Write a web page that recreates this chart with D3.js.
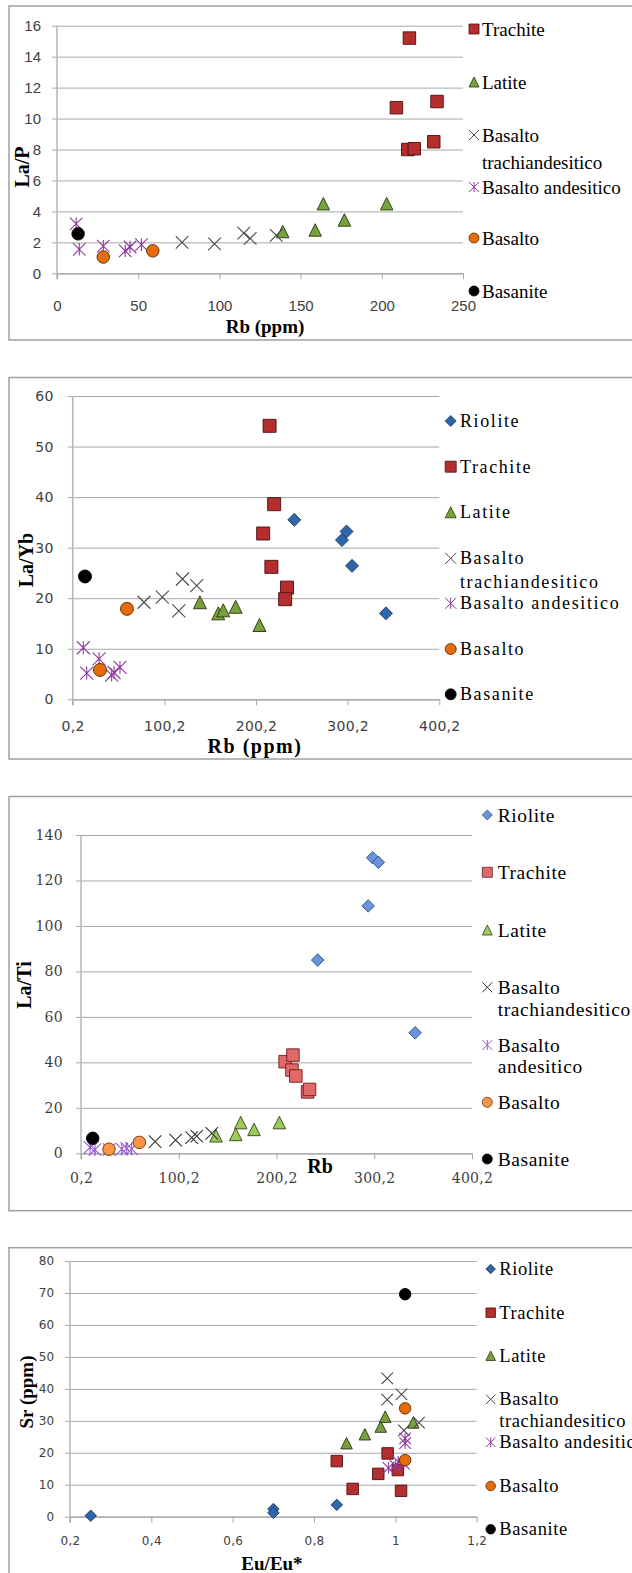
<!DOCTYPE html>
<html lang="it">
<head>
<meta charset="UTF-8">
<title>Diagrammi La/P, La/Yb, La/Ti, Sr</title>
<script src="https://cdn.jsdelivr.net/npm/d3@7"></script>
<style>
    body { margin: 0; background: #fff; }
    svg { display: block; }
    .serif { font-family: "Liberation Serif", "Times New Roman", "DejaVu Serif", serif; }
</style>
</head>
<body>
<script>
    // ---- dati ([x, y]) ----

    // Pannello 1: La/P vs Rb (ppm)
    const laP_trachite = [[217,15.2],[209,10.7],[234,11.1],[216,8.0],[220,8.05],[232,8.5]];
    const laP_latite   = [[164,4.5],[203,4.5],[177,3.45],[159,2.8],[139,2.7]];
    const laP_bta      = [[77,2.0],[97,1.9],[115,2.6],[119,2.25],[135,2.45]];
    const laP_ba       = [[11.8,3.2],[13.7,1.55],[28.5,1.75],[42,1.45],[45,1.7],[52,1.85]];
    const laP_basalto  = [[28.5,1.05],[59,1.45]];
    const laP_basanite = [[13,2.55]];

    // Pannello 2: La/Yb vs Rb (ppm)
    const laYb_riolite  = [[242,35.5],[299,33.2],[294,31.5],[305,26.4],[342,17.0]];
    const laYb_trachite = [[215,54.1],[220,38.6],[208,32.8],[217,26.2],[234,22.1],[232,19.8]];
    const laYb_latite   = [[139,19.2],[159,17.0],[164.5,17.6],[178,18.3],[204,14.7]];
    const laYb_bta      = [[78,19.2],[98,20.2],[116,17.5],[120,23.8],[135.5,22.5]];
    const laYb_ba       = [[11.8,10.2],[15.5,5.2],[29,8.0],[42.7,4.8],[45.3,5.3],[51.8,6.3]];
    const laYb_basalto  = [[59.4,17.9],[30,5.8]];
    const laYb_basanite = [[13.6,24.3]];

    // Pannello 3: La/Ti vs Rb
    const laTi_riolite  = [[298.6,130],[304.4,128],[294,108.8],[242.3,85],[342,53]];
    const laTi_trachite = [[209,40.3],[217,43.2],[216,36.6],[220,34],[232,27],[234,28.1]];
    const laTi_latite   = [[138.3,7.7],[158.5,8.3],[163.6,13.5],[177.2,10.5],[203.1,13.5]];
    const laTi_bta      = [[76,5.1],[97,5.8],[113.4,6.9],[118.6,7.6],[134,8.8]];
    const laTi_ba       = [[9.5,2.6],[14.5,1.6],[29,1.6],[42,1.8],[47,2.2],[52,1.9]];
    const laTi_basalto  = [[28.8,1.8],[59.9,4.8]];
    const laTi_basanite = [[12.2,6.6]];

    // Pannello 4: Sr (ppm) vs Eu/Eu*
    const srEu_riolite  = [[0.251,0.3],[0.70,2.4],[0.70,1.2],[0.856,3.7]];
    const srEu_trachite = [[0.856,17.4],[0.895,8.7],[0.958,13.4],[0.981,19.8],[1.006,14.6],[1.014,8.1]];
    const srEu_latite   = [[0.88,23],[0.925,25.8],[0.964,28.2],[0.975,31.3],[1.044,29.5]];
    const srEu_bta      = [[0.98,43.3],[0.98,36.6],[1.015,38.3],[1.021,27.0],[1.058,29.4]];
    const srEu_ba       = [[1.024,24.5],[1.024,23.0],[0.983,15.3],[1.007,17.2],[1.021,16.5],[1.0,16.0]];
    const srEu_basalto  = [[1.024,33.9],[1.024,17.7]];
    const srEu_basanite = [[1.024,69.6]];

    // ---- assi ----
    const p1XTicks = [0, 50, 100, 150, 200, 250];
    const p1XLabels = ["0", "50", "100", "150", "200", "250"];
    const p1YTicks = [0, 2, 4, 6, 8, 10, 12, 14, 16];

    const rbTicks = [0.2, 100.2, 200.2, 300.2, 400.2];
    const rbLabels = ["0,2", "100,2", "200,2", "300,2", "400,2"];
    const p2YTicks = [0, 10, 20, 30, 40, 50, 60];
    const p3YTicks = [0, 20, 40, 60, 80, 100, 120, 140];

    const p4XTicks = [0.2, 0.4, 0.6, 0.8, 1.0, 1.2];
    const p4XLabels = ["0,2", "0,4", "0,6", "0,8", "1", "1,2"];
    const p4YTicks = [0, 10, 20, 30, 40, 50, 60, 70, 80];

    // ---- stili ----
    const dark = {
        riolite:  {type: "diamond",  fill: "#2f66aa", stroke: "#1c3a63"},
        trachite: {type: "square",   fill: "#b52e2e", stroke: "#4a1010"},
        latite:   {type: "triangle", fill: "#77a13a", stroke: "#263510"},
        bta:      {type: "x",        fill: "none",    stroke: "#4a4a4a"},
        ba:       {type: "star",     fill: "none",    stroke: "#8e3a9e"},
        basalto:  {type: "circle",   fill: "#e46c0a", stroke: "#5a2a00"},
        basanite: {type: "circle",   fill: "#000",    stroke: "#000"}
    };
    const light = {
        riolite:  {type: "diamond",  fill: "#6a94d8", stroke: "#2c4f86"},
        trachite: {type: "square",   fill: "#e06a6a", stroke: "#6e1a1a"},
        latite:   {type: "triangle", fill: "#9bcb59", stroke: "#2f4214"},
        bta:      {type: "x",        fill: "none",    stroke: "#333"},
        ba:       {type: "star",     fill: "none",    stroke: "#9a5ad6"},
        basalto:  {type: "circle",   fill: "#f79646", stroke: "#6a3000"},
        basanite: {type: "circle",   fill: "#000",    stroke: "#000"}
    };

    function markerPath(type, s) {
        const h = s / 2;
        switch (type) {
            case "square":   return `M${-h},${-h}h${s}v${s}h${-s}Z`;
            case "diamond":  return `M0,${-h}L${h},0L0,${h}L${-h},0Z`;
            case "triangle": return `M0,${-h}L${h},${h}L${-h},${h}Z`;
            case "circle":   return d3.symbol().type(d3.symbolCircle).size(Math.PI * h * h)();
            case "x":        return `M${-h},${-h}L${h},${h}M${h},${-h}L${-h},${h}`;
            case "star":     return `M${-h},${-h}L${h},${h}M${h},${-h}L${-h},${h}M0,${-h}V${h}`;
        }
    }

    const panels = [
        {
            frame: [9, 6, 340],
            left: 57, right: 463, top: 25.7, bottom: 273.3,
            xDomain: [0, 250], yDomain: [0, 16],
            xTicks: p1XTicks, xLabels: p1XLabels, yTicks: p1YTicks,
            tickFont: '"Liberation Sans", Arial, sans-serif', tickSize: 15, tickSpacing: 0,
            yPad: 11, xLabelY: 305.5,
            yTitle: "La/P", yTitlePos: [22, 167], yTitleSize: 20,
            xTitle: "Rb (ppm)", xTitlePos: [265, 326], xTitleSize: 19, xTitleSpacing: 0,
            styles: dark, size: 12.5,
            series: [["trachite", laP_trachite], ["latite", laP_latite], ["bta", laP_bta],
                     ["ba", laP_ba], ["basalto", laP_basalto], ["basanite", laP_basanite]],
            legend: {mx: 474, tx: 482, size: 10, font: 19, spacing: 0,
                     rows: [["trachite", ["Trachite"], 29], ["latite", ["Latite"], 82],
                            ["bta", ["Basalto", "trachiandesitico"], 135, 162],
                            ["ba", ["Basalto andesitico"], 187], ["basalto", ["Basalto"], 238],
                            ["basanite", ["Basanite"], 291]]}
        },
        {
            frame: [9, 377.5, 759],
            left: 72.7, right: 439.3, top: 396, bottom: 699.3,
            xDomain: [0.2, 400.2], yDomain: [0, 60],
            xTicks: rbTicks, xLabels: rbLabels, yTicks: p2YTicks,
            tickFont: '"DejaVu Sans", Verdana, sans-serif', tickSize: 14, tickSpacing: 0.3,
            yPad: 14, xLabelY: 726.5,
            yTitle: "La/Yb", yTitlePos: [26, 560], yTitleSize: 20,
            xTitle: "Rb (ppm)", xTitlePos: [255, 746], xTitleSize: 20, xTitleSpacing: 1.5,
            styles: dark, size: 13,
            series: [["riolite", laYb_riolite], ["trachite", laYb_trachite], ["latite", laYb_latite],
                     ["bta", laYb_bta], ["ba", laYb_ba], ["basalto", laYb_basalto], ["basanite", laYb_basanite]],
            legend: {mx: 450.7, tx: 460, size: 11, font: 18, spacing: 1.6,
                     rows: [["riolite", ["Riolite"], 421], ["trachite", ["Trachite"], 466.7],
                            ["latite", ["Latite"], 512.3],
                            ["bta", ["Basalto", "trachiandesitico"], 558.3, 581.7],
                            ["ba", ["Basalto andesitico"], 603.3], ["basalto", ["Basalto"], 649],
                            ["basanite", ["Basanite"], 694.3]]}
        },
        {
            frame: [9, 796.5, 1210.7],
            left: 81, right: 472, top: 835, bottom: 1153.3,
            xDomain: [0.2, 400.2], yDomain: [0, 140],
            xTicks: rbTicks, xLabels: rbLabels, yTicks: p3YTicks,
            tickFont: '"DejaVu Serif", serif', tickSize: 14, tickSpacing: 0.3,
            yPad: 13, xLabelY: 1178,
            yTitle: "La/Ti", yTitlePos: [24, 985], yTitleSize: 20,
            xTitle: "Rb", xTitlePos: [320, 1166], xTitleSize: 20, xTitleSpacing: 0,
            styles: light, size: 12.5,
            series: [["riolite", laTi_riolite], ["trachite", laTi_trachite], ["latite", laTi_latite],
                     ["bta", laTi_bta], ["ba", laTi_ba], ["basalto", laTi_basalto], ["basanite", laTi_basanite]],
            legend: {mx: 487.3, tx: 497.7, size: 10, font: 19.5, spacing: 0.6,
                     rows: [["riolite", ["Riolite"], 815], ["trachite", ["Trachite"], 872.3],
                            ["latite", ["Latite"], 930],
                            ["bta", ["Basalto", "trachiandesitico"], 987.3, 1009.3],
                            ["ba", ["Basalto", "andesitico"], 1045, 1066.7],
                            ["basalto", ["Basalto"], 1102.3], ["basanite", ["Basanite"], 1159]]}
        },
        {
            frame: [9, 1247.7, 1600],
            left: 70, right: 476.7, top: 1261, bottom: 1516.7,
            xDomain: [0.2, 1.2], yDomain: [0, 80],
            xTicks: p4XTicks, xLabels: p4XLabels, yTicks: p4YTicks,
            tickFont: '"DejaVu Sans", Verdana, sans-serif', tickSize: 12, tickSpacing: 0.3,
            yPad: 10.5, xLabelY: 1541,
            yTitle: "Sr (ppm)", yTitlePos: [26, 1392], yTitleSize: 19,
            xTitle: "Eu/Eu*", xTitlePos: [272, 1563], xTitleSize: 19, xTitleSpacing: 0,
            styles: dark, size: 11.5,
            series: [["riolite", srEu_riolite], ["trachite", srEu_trachite], ["latite", srEu_latite],
                     ["bta", srEu_bta], ["ba", srEu_ba], ["basalto", srEu_basalto], ["basanite", srEu_basanite]],
            legend: {mx: 490.7, tx: 499.3, size: 9.5, font: 18.5, spacing: 0.6,
                     rows: [["riolite", ["Riolite"], 1269], ["trachite", ["Trachite"], 1312.7],
                            ["latite", ["Latite"], 1355.7],
                            ["bta", ["Basalto", "trachiandesitico"], 1399.3, 1420.7],
                            ["ba", ["Basalto andesitico"], 1442.3], ["basalto", ["Basalto"], 1486],
                            ["basanite", ["Basanite"], 1529.3]]}
        }
    ];

    const svg = d3.select("body").append("svg").attr("width", 632).attr("height", 1573);

    panels.forEach(drawPanel);

    function drawPanel(p) {
        const g = svg.append("g");

        // cornice del grafico (il bordo destro esce dall'immagine)
        g.append("rect")
            .attr("x", p.frame[0]).attr("y", p.frame[1])
            .attr("width", 700).attr("height", p.frame[2] - p.frame[1])
            .attr("fill", "#fff").attr("stroke", "#a0a0a0").attr("stroke-width", 1.5);

        const x = d3.scaleLinear().domain(p.xDomain).range([p.left, p.right]);
        const y = d3.scaleLinear().domain(p.yDomain).range([p.bottom, p.top]);

        // griglia orizzontale + etichette Y
        const ya = g.append("g")
            .attr("transform", `translate(${p.left - 5},0)`)
            .call(d3.axisLeft(y).tickValues(p.yTicks)
                    .tickSize(-(p.right - p.left + 5)).tickPadding(p.yPad)
                    .tickFormat(d => d));
        ya.select(".domain").remove();
        ya.selectAll("line").attr("stroke", "#a8a8a8").attr("stroke-width", 1);
        styleTicks(ya.selectAll("text"), p);

        // asse verticale
        g.append("line")
            .attr("x1", p.left).attr("x2", p.left)
            .attr("y1", p.top).attr("y2", p.bottom + 6)
            .attr("stroke", "#b4b4b4").attr("stroke-width", 1.5);

        // asse X
        const xa = g.append("g")
            .attr("transform", `translate(0,${p.bottom})`)
            .call(d3.axisBottom(x).tickValues(p.xTicks)
                    .tickFormat((d, i) => p.xLabels[i])
                    .tickSize(6).tickSizeOuter(0));
        xa.select(".domain").attr("stroke", "#a8a8a8").attr("stroke-width", 1.2);
        xa.selectAll("line").attr("stroke", "#a8a8a8");
        styleTicks(xa.selectAll("text"), p);
        xa.selectAll("text").attr("y", p.xLabelY - p.bottom).attr("dy", "0.35em");

        // titoli degli assi
        g.append("text")
            .attr("class", "serif")
            .attr("transform", `translate(${p.yTitlePos[0]},${p.yTitlePos[1]}) rotate(-90)`)
            .attr("text-anchor", "middle").attr("dominant-baseline", "central")
            .attr("font-weight", "bold").attr("font-size", p.yTitleSize)
            .text(p.yTitle);
        g.append("text")
            .attr("class", "serif")
            .attr("x", p.xTitlePos[0]).attr("y", p.xTitlePos[1])
            .attr("text-anchor", "middle").attr("dominant-baseline", "central")
            .attr("font-weight", "bold").attr("font-size", p.xTitleSize)
            .attr("letter-spacing", p.xTitleSpacing)
            .text(p.xTitle);

        // punti
        p.series.forEach(([key, values]) => {
            const st = p.styles[key];
            g.append("g").selectAll("path")
                .data(values)
                .join("path")
                .attr("transform", d => `translate(${x(d[0])},${y(d[1])})`)
                .attr("d", markerPath(st.type, p.size))
                .attr("fill", st.fill)
                .attr("stroke", st.stroke)
                .attr("stroke-width", st.fill === "none" ? 1.1 : 0.9);
        });

        // legenda
        const lg = g.append("g");
        p.legend.rows.forEach(row => {
            const st = p.styles[row[0]];
            lg.append("path")
                .attr("transform", `translate(${p.legend.mx},${row[2]})`)
                .attr("d", markerPath(st.type, p.legend.size))
                .attr("fill", st.fill).attr("stroke", st.stroke)
                .attr("stroke-width", st.fill === "none" ? 1 : 0.8);
            row[1].forEach((line, i) => {
                lg.append("text")
                    .attr("class", "serif")
                    .attr("x", p.legend.tx).attr("y", row[2 + i])
                    .attr("dominant-baseline", "central")
                    .attr("font-size", p.legend.font)
                    .attr("letter-spacing", p.legend.spacing)
                    .attr("fill", "#000")
                    .text(line);
            });
        });
    }

    function styleTicks(sel, p) {
        sel.style("font-family", p.tickFont)
           .style("font-size", p.tickSize + "px")
           .style("letter-spacing", p.tickSpacing + "px")
           .attr("fill", "#404040");
    }
</script>
</body>
</html>
